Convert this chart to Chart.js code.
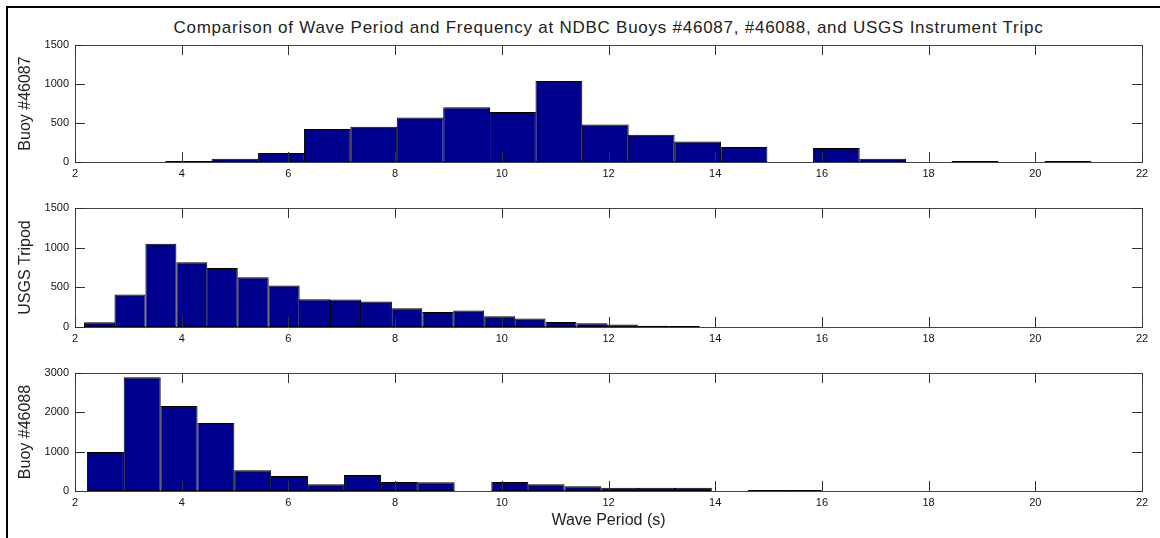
<!DOCTYPE html>
<html>
<head>
<meta charset="utf-8">
<script src="https://cdn.jsdelivr.net/npm/chart.js@4.4.1/dist/chart.umd.min.js"></script>
<style>
  body { margin: 0; background: #fff; width: 1160px; height: 538px; overflow: hidden; position: relative;
         font-family: "Liberation Sans", Arial, sans-serif; }
  .frame { position: absolute; left: 6px; top: 6px; width: 1200px; height: 600px;
           border-left: 2px solid #000; border-top: 2px solid #000; }
  .title { position: absolute; left: 75px; width: 1067px; top: 18px; text-align: center;
           font-size: 17px; letter-spacing: 0.75px; color: #222; white-space: nowrap; }
  canvas { position: absolute; left: 0; }
</style>
</head>
<body>
<div class="frame"></div>
<div class="title">Comparison of Wave Period and Frequency at NDBC Buoys #46087, #46088, and USGS Instrument Tripc</div>
<canvas id="c1" width="1160" height="190" style="top:0"></canvas>
<canvas id="c2" width="1160" height="160" style="top:190px"></canvas>
<canvas id="c3" width="1160" height="188" style="top:350px"></canvas>
<script>
// bin centres (wave period, s) and counts
const buoy46087Periods = [4.13, 5.00, 5.87, 6.73, 7.60, 8.47, 9.34, 10.20, 11.07, 11.94,
                          12.80, 13.67, 14.54, 15.40, 16.27, 17.14, 18.01, 18.87, 19.74, 20.61];
const buoy46087Counts  = [13, 42, 115, 422, 452, 571, 703, 640, 1040, 481,
                          349, 263, 192, null, 179, 42, null, 13, null, 13];

const tripodPeriods = [2.46, 3.03, 3.61, 4.19, 4.76, 5.34, 5.92, 6.49, 7.07, 7.65,
                       8.22, 8.80, 9.38, 9.96, 10.53, 11.11, 11.69, 12.26, 12.84, 13.42];
const tripodCounts  = [60, 410, 1048, 816, 744, 626, 524, 351, 348, 321,
                       237, 190, 207, 135, 106, 63, 47, 30, 15, 13];

const buoy46088Periods = [2.57, 3.26, 3.95, 4.64, 5.33, 6.02, 6.70, 7.39, 8.08, 8.77,
                          9.46, 10.15, 10.83, 11.52, 12.21, 12.90, 13.59, 14.28, 14.96, 15.65];
const buoy46088Counts  = [990, 2890, 2160, 1730, 526, 381, 170, 407, 229, 225,
                          null, 229, 170, 119, 85, 82, 80, null, 26, 26];

const xTickStep = 2;      // 2, 4, ... 22
const xMin = 2, xMax = 22;

const FONT = '"Liberation Sans", Arial, sans-serif';
const AXIS = '#444';
const TICK_LEN = 10;

// matlab style ticks: short marks pointing into the plot box on all four sides
const inwardTicks = {
  id: 'inwardTicks',
  afterDraw(chart) {
    const { ctx, chartArea: a } = chart;
    const x = chart.scales.x, y = chart.scales.y;
    ctx.save();
    ctx.strokeStyle = '#333';
    ctx.lineWidth = 1;
    ctx.beginPath();
    x.ticks.forEach(t => {
      const px = Math.round(x.getPixelForValue(t.value)) + 0.5;
      ctx.moveTo(px, a.bottom); ctx.lineTo(px, a.bottom - TICK_LEN);
      ctx.moveTo(px, a.top);    ctx.lineTo(px, a.top + TICK_LEN);
    });
    y.ticks.forEach(t => {
      const py = Math.round(y.getPixelForValue(t.value)) + 0.5;
      ctx.moveTo(a.left, py);  ctx.lineTo(a.left + TICK_LEN, py);
      ctx.moveTo(a.right, py); ctx.lineTo(a.right - TICK_LEN, py);
    });
    ctx.stroke();
    ctx.restore();
  }
};

function makePanel(id, periods, counts, yMax, yStep, yTitle, xTitle, padTop, xHeight) {
  const ctx = document.getElementById(id).getContext('2d');
  return new Chart(ctx, {
    type: 'bar',
    data: {
      datasets: [{
        data: periods.map((p, i) => ({ x: p, y: counts[i] })),
        backgroundColor: '#00008F',
        borderColor: '#000',
        borderWidth: 1,
        borderSkipped: false,
        inflateAmount: 0,
        barPercentage: 1.02,
        categoryPercentage: 1,
        xAxisID: 'x',
        yAxisID: 'y'
      }]
    },
    options: {
      responsive: false,
      animation: false,
      layout: { padding: { left: 0, right: 18, top: padTop, bottom: 0 } },
      plugins: { legend: { display: false }, tooltip: { enabled: false } },
      scales: {
        x: {
          type: 'linear', position: 'bottom', min: xMin, max: xMax, offset: false,
          ticks: { stepSize: xTickStep, padding: 5, color: '#111', autoSkip: false, maxRotation: 0,
                   font: { family: FONT, size: 11 } },
          grid: { display: false, drawTicks: false, offset: false },
          border: { display: true, color: AXIS, width: 1 },
          title: xTitle ? { display: true, text: xTitle, color: '#222', font: { family: FONT, size: 16 },
                            padding: { top: 0, bottom: 8 } } : { display: false },
          afterFit(s) { s.height = xHeight; }
        },
        xTop: {
          type: 'linear', position: 'top', min: xMin, max: xMax, offset: false,
          ticks: { display: false },
          grid: { display: false, drawTicks: false, offset: false },
          border: { display: true, color: AXIS, width: 1 },
          afterFit(s) { s.height = 0; }
        },
        y: {
          type: 'linear', position: 'left', min: 0, max: yMax,
          ticks: { stepSize: yStep, padding: 6, color: '#111', font: { family: FONT, size: 11 },
                   callback: v => String(v) },
          grid: { display: false, drawTicks: false },
          border: { display: true, color: AXIS, width: 1 },
          title: { display: true, text: yTitle, color: '#222', font: { family: FONT, size: 16 },
                   padding: { top: 16, bottom: 0 } },
          afterFit(s) { s.width = 75; }
        },
        yRight: {
          type: 'linear', position: 'right', min: 0, max: yMax,
          ticks: { display: false },
          grid: { display: false, drawTicks: false },
          border: { display: true, color: AXIS, width: 1 },
          afterFit(s) { s.width = 0; }
        }
      }
    },
    plugins: [inwardTicks]
  });
}

makePanel('c1', buoy46087Periods, buoy46087Counts, 1500, 500, 'Buoy #46087', null, 45, 28);
makePanel('c2', tripodPeriods, tripodCounts, 1500, 500, 'USGS Tripod', null, 18, 23);
makePanel('c3', buoy46088Periods, buoy46088Counts, 3000, 1000, 'Buoy #46088', 'Wave Period (s)', 23, 47);
</script>
</body>
</html>
